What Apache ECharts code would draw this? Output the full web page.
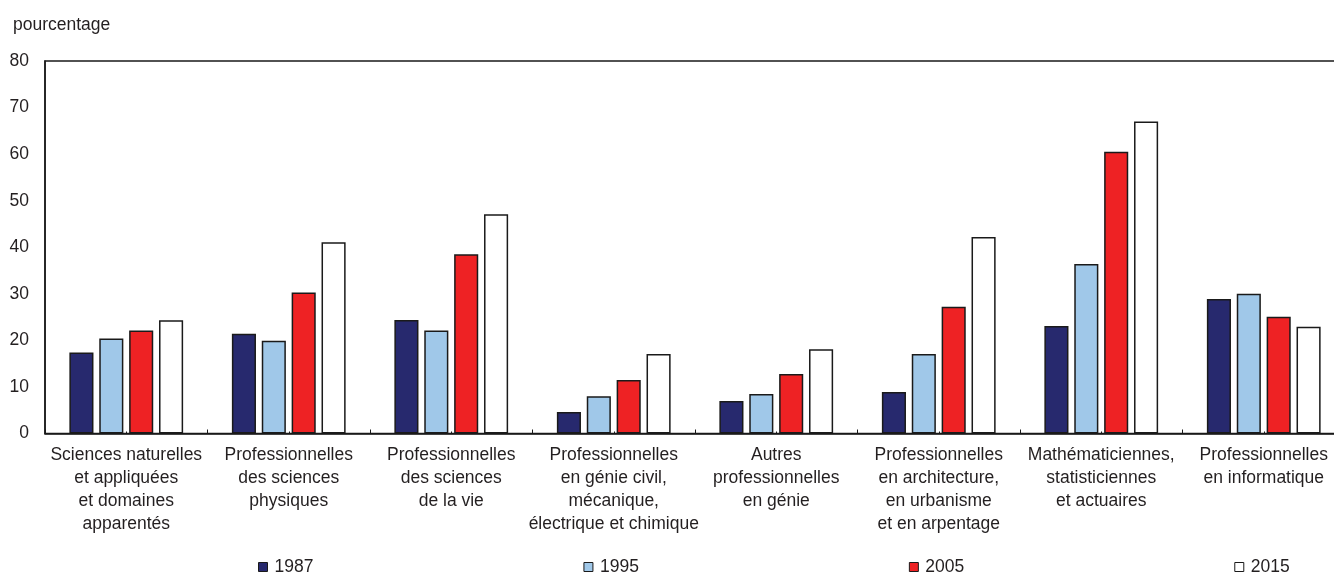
<!DOCTYPE html>
<html>
<head>
<meta charset="utf-8">
<script src="https://cdn.jsdelivr.net/npm/echarts@6/dist/echarts.min.js"></script>
<style>
  html, body { margin: 0; padding: 0; background: #fff; }
  #chart { width: 1334px; height: 575px; }
</style>
</head>
<body>
<div id="chart"></div>
<script>
// Occupations (x-axis categories)
const categories = [
  'Sciences naturelles\net appliquées\net domaines\napparentés',
  'Professionnelles\ndes sciences\nphysiques',
  'Professionnelles\ndes sciences\nde la vie',
  'Professionnelles\nen génie civil,\nmécanique,\nélectrique et chimique',
  'Autres\nprofessionnelles\nen génie',
  'Professionnelles\nen architecture,\nen urbanisme\net en arpentage',
  'Mathématiciennes,\nstatisticiennes\net actuaires',
  'Professionnelles\nen informatique'
];

// Share of women, percentage, by year
const years = ['1987', '1995', '2005', '2015'];
const v1987 = [17.4, 21.4, 24.4, 4.6, 7.0, 8.9, 23.1, 28.9];
const v1995 = [20.4, 19.9, 22.1, 8.0, 8.5, 17.1, 36.4, 30.0];
const v2005 = [22.1, 30.3, 38.5, 11.5, 12.8, 27.2, 60.5, 25.1];
const v2015 = [24.3, 41.1, 47.1, 17.1, 18.1, 42.2, 67.0, 22.9];

const yTicks = { min: 0, max: 80, interval: 10 };
const colors = ['#27296e', '#a0c8e9', '#ee2224', '#ffffff'];
const FONT = "'Liberation Sans Narrow', 'Arial Narrow', 'Liberation Sans', sans-serif";
const TXT = '#231f20';
const FS = 17.5;

const seriesData = [v1987, v1995, v2005, v2015];

const chart = echarts.init(document.getElementById('chart'), null, { renderer: 'canvas' });

chart.setOption({
  animation: false,
  textStyle: { fontFamily: FONT, color: TXT },
  title: {
    text: 'pourcentage',
    left: 8, top: 11,
    textStyle: { fontFamily: FONT, fontSize: FS, fontWeight: 'normal', color: TXT }
  },
  legend: {
    data: years,
    left: 253, top: 553,
    itemWidth: 9, itemHeight: 9,
    itemGap: 270,
    icon: 'rect',
    textStyle: { fontFamily: FONT, fontSize: FS, color: TXT, padding: [0, 0, 0, 2] },
    itemStyle: { borderColor: '#1a1a1a', borderWidth: 1 }
  },
  grid: {
    left: 45, top: 61, width: 1300, height: 372.5,
    outerBoundsMode: 'none',
    containLabel: false,
    show: true, borderColor: '#1a1a1a', borderWidth: 1.5, backgroundColor: 'transparent'
  },
  xAxis: [
    {
      type: 'category',
      data: categories,
      axisLine: { lineStyle: { color: '#1a1a1a', width: 1.5 } },
      axisTick: { show: true, inside: true, length: 4, lineStyle: { color: '#1a1a1a' } },
      axisLabel: {
        interval: 0, margin: 10,
        fontFamily: FONT, fontSize: FS, color: TXT, lineHeight: 23, align: 'center'
      }
    },
    {
      // short marks at each category centre
      type: 'category',
      data: categories,
      position: 'bottom',
      axisLine: { show: false },
      axisTick: { show: true, inside: true, alignWithLabel: true, length: 2, lineStyle: { color: '#1a1a1a' } },
      axisLabel: { show: false }
    }
  ],
  yAxis: {
    type: 'value',
    min: yTicks.min, max: yTicks.max, interval: yTicks.interval,
    axisLine: { show: true, lineStyle: { color: '#1a1a1a', width: 1.5 } },
    axisTick: { show: false },
    splitLine: { show: false },
    axisLabel: { margin: 16, fontFamily: FONT, fontSize: FS, color: TXT }
  },
  series: years.map((y, i) => ({
    name: y,
    type: 'bar',
    data: seriesData[i],
    barCategoryGap: '30%',
    barGap: '24%',
    itemStyle: { color: colors[i], borderColor: '#1a1a1a', borderWidth: 1.5 }
  }))
});
</script>
</body>
</html>
